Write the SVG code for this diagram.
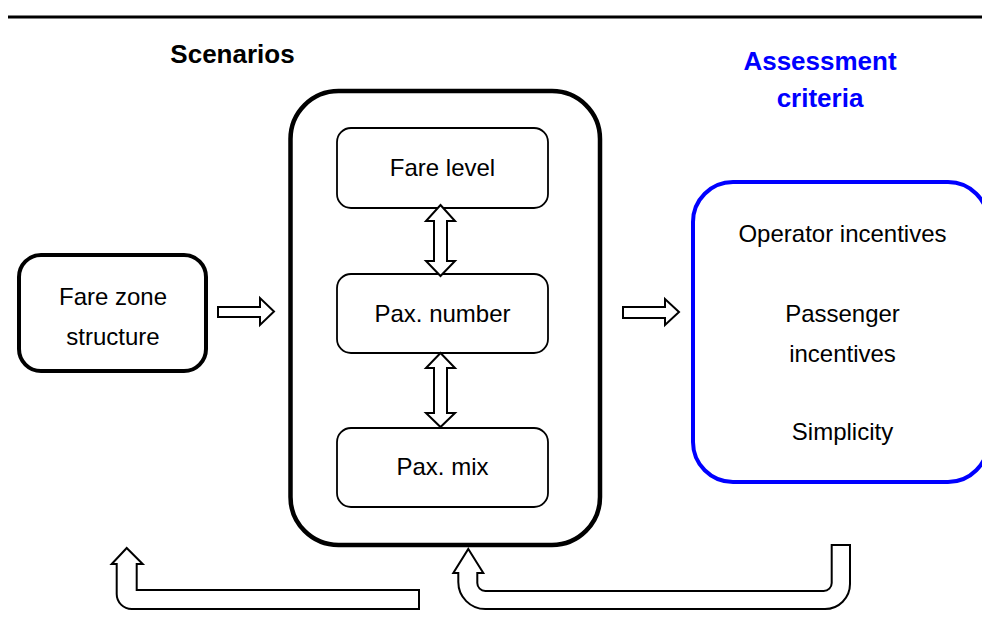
<svg xmlns="http://www.w3.org/2000/svg" width="982" height="630" viewBox="0 0 982 630">
<style>
  .t { font-family: "Liberation Sans", Arial, sans-serif; font-size: 24px; fill: #000; text-anchor: middle; }
  .h { font-family: "Liberation Sans", Arial, sans-serif; font-size: 26px; font-weight: bold; text-anchor: middle; }
  .box { fill: #fff; stroke: #000; }
  .arr { fill: #fff; stroke: #000; stroke-width: 2; stroke-linejoin: miter; }
</style>
<rect width="982" height="630" fill="#fff"/>
<line x1="8" y1="17" x2="982" y2="17" stroke="#000" stroke-width="3"/>
<text class="h" x="232.5" y="63" fill="#000">Scenarios</text>
<text class="h" x="820" y="70" fill="#0000ff">Assessment</text>
<text class="h" x="820" y="107" fill="#0000ff">criteria</text>

<g id="fare-zone">
  <rect class="box" x="19" y="255" width="187" height="116" rx="22" stroke-width="4"/>
  <text class="t" x="113" y="305">Fare zone</text>
  <text class="t" x="113" y="345">structure</text>
</g>

<g id="scenarios">
  <rect class="box" x="290.5" y="91" width="309.5" height="454" rx="48" stroke-width="4.5"/>
</g>

<g id="fare-level">
  <rect class="box" x="337" y="128" width="211" height="80" rx="14" stroke-width="1.8"/>
  <text class="t" x="442.5" y="176">Fare level</text>
</g>
<g id="pax-number">
  <rect class="box" x="337" y="274" width="211" height="79" rx="14" stroke-width="1.8"/>
  <text class="t" x="442.5" y="322">Pax. number</text>
</g>
<g id="pax-mix">
  <rect class="box" x="337" y="428" width="211" height="79" rx="14" stroke-width="1.8"/>
  <text class="t" x="442.5" y="475">Pax. mix</text>
</g>

<g id="assessment">
  <rect x="693" y="182" width="295" height="300" rx="40" fill="#fff" stroke="#0000ff" stroke-width="4"/>
  <text class="t" x="842.5" y="242">Operator incentives</text>
  <text class="t" x="842.5" y="322">Passenger</text>
  <text class="t" x="842.5" y="362">incentives</text>
  <text class="t" x="842.5" y="440">Simplicity</text>
</g>

<g id="connectors">
  <path class="arr" d="M218,307 L260,307 L260,298 L274,311.5 L260,325 L260,317 L218,317 Z"/>
  <path class="arr" d="M623,307 L665,307 L665,299 L679,312 L665,325 L665,318 L623,318 Z"/>
  <path class="arr" d="M440.5,205 L455,221 L447,221 L447,261 L455,261 L440.5,276 L426,261 L434,261 L434,221 L426,221 Z"/>
  <path class="arr" d="M440.5,353 L455,368 L447,368 L447,413 L455,413 L440.5,427 L426,413 L434,413 L434,368 L426,368 Z"/>
  <path class="arr" d="M419,590 L136.7,590 L136.7,564 L142.7,564 L126.7,548 L111.7,564 L116.7,564 L116.7,594 A15,15 0 0 0 131.7,609 L419,609 Z"/>
  <path class="arr" d="M468.3,549 L483.3,573 L477.3,573 L477.3,583 A8,8 0 0 0 485.3,591 L823.7,591 A8,8 0 0 0 831.7,583 L831.7,545 L850,545 L850,584 A25,25 0 0 1 825,609 L485.3,609 A27,27 0 0 1 458.3,582 L458.3,573 L453.3,573 Z"/>
</g>
</svg>
